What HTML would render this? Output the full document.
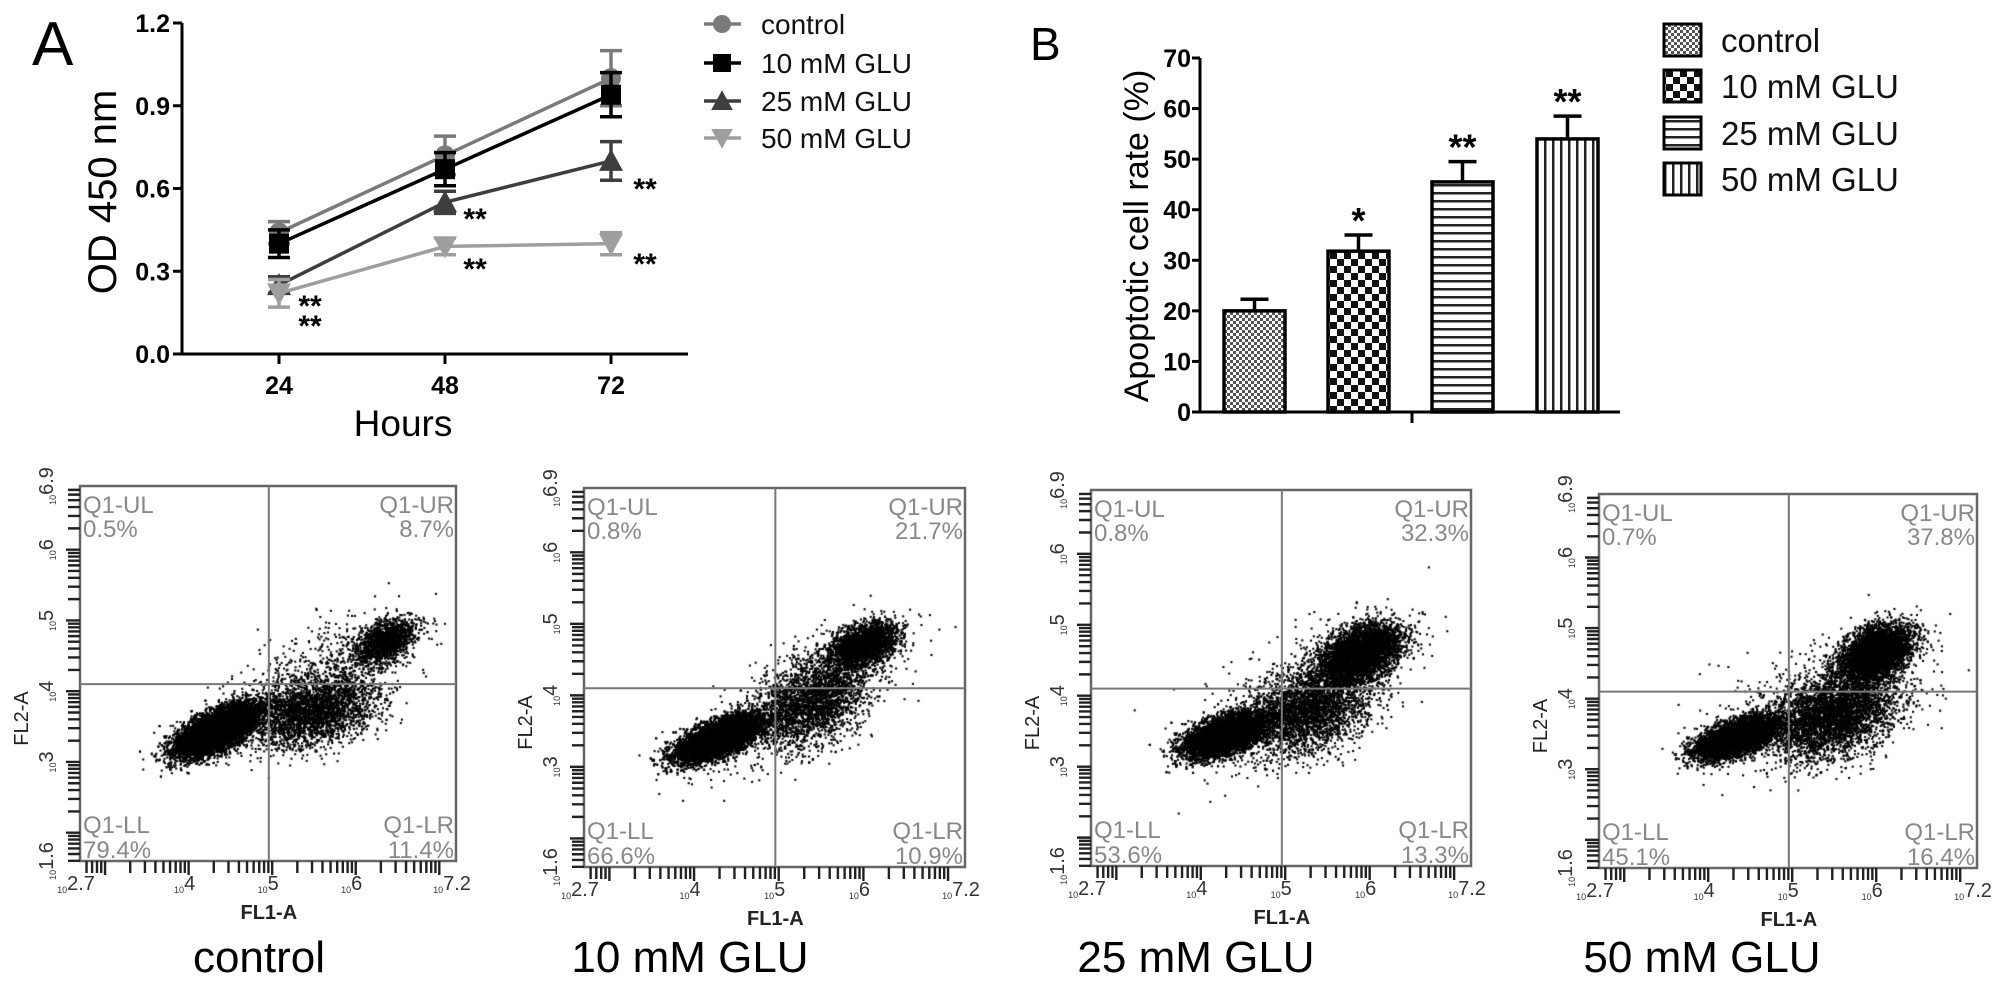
<!DOCTYPE html>
<html><head><meta charset="utf-8"><style>
html,body{margin:0;padding:0;background:#fff;}
#wrap{position:relative;width:2008px;height:997px;overflow:hidden;}
canvas,svg{position:absolute;left:0;top:0;}
text{font-family:"Liberation Sans",sans-serif;}
</style></head><body>
<div id="wrap">
<canvas id="dots" width="2008" height="997"></canvas>
<svg id="fig" width="2008" height="997" xmlns="http://www.w3.org/2000/svg">
<defs>
<pattern id="pCtrl" width="6" height="6" patternUnits="userSpaceOnUse"><rect width="6" height="6" fill="#fff"/><rect width="3" height="3" fill="#555"/><rect x="3" y="3" width="3" height="3" fill="#555"/></pattern>
<pattern id="p10" width="14" height="14" patternUnits="userSpaceOnUse"><rect width="14" height="14" fill="#fff"/><rect width="7" height="7" fill="#111"/><rect x="7" y="7" width="7" height="7" fill="#111"/></pattern>
<pattern id="p25" width="8" height="8" patternUnits="userSpaceOnUse"><rect width="8" height="8" fill="#fff"/><rect y="0" width="8" height="2.5" fill="#222"/></pattern>
<pattern id="p50" width="8" height="8" patternUnits="userSpaceOnUse"><rect width="8" height="8" fill="#fff"/><rect x="0" width="2.5" height="8" fill="#222"/></pattern>
</defs>
<g id="panelA"></g>
<g id="panelB"></g>
<g id="flows"></g>
</svg>
</div>
<script>
// ---------- Panel A data ----------
const hours = [24, 48, 72];
const yTicksA = [0.0, 0.3, 0.6, 0.9, 1.2];
const seriesNames = ["control", "10 mM GLU", "25 mM GLU", "50 mM GLU"];
const ctrlMean = [0.44, 0.72, 1.00];
const ctrlErr = [0.04, 0.07, 0.10];
const glu10Mean = [0.40, 0.67, 0.94];
const glu10Err = [0.05, 0.06, 0.08];
const glu25Mean = [0.25, 0.55, 0.70];
const glu25Err = [0.03, 0.04, 0.07];
const glu50Mean = [0.22, 0.39, 0.40];
const glu50Err = [0.05, 0.03, 0.04];
// ---------- Panel B data ----------
const barCats = ["control", "10 mM GLU", "25 mM GLU", "50 mM GLU"];
const barVals = [20.0, 31.8, 45.5, 54.0];
const barErrs = [2.3, 3.2, 4.0, 4.5];
const barStars = ["", "*", "**", "**"];
const yTicksB = [0, 10, 20, 30, 40, 50, 60, 70];
// ---------- Flow data ----------
const flowTitles = ["control", "10 mM GLU", "25 mM GLU", "50 mM GLU"];
const flowUL = ["0.5%", "0.8%", "0.8%", "0.7%"];
const flowUR = ["8.7%", "21.7%", "32.3%", "37.8%"];
const flowLL = ["79.4%", "66.6%", "53.6%", "45.1%"];
const flowLR = ["11.4%", "10.9%", "13.3%", "16.4%"];
const flowXTicks = ["2.7", "4", "5", "6", "7.2"];
const flowXTickVals = [2.7, 4, 5, 6, 7.2];
const flowYTicks = ["1.6", "3", "4", "5", "6", "6.9"];
const flowYTickVals = [1.6, 3, 4, 5, 6, 6.9];
const gateX = 4.96, gateY = 4.1;
// clusters: [cx, cy, sdMajor, sdMinor, angleDeg, n] (log decades)
const clusters1 = [[4.35,3.45,0.28,0.12,33,9000],[5.5,3.7,0.4,0.22,20,2600],[6.35,4.7,0.2,0.13,40,1500],[5.6,4.2,0.6,0.3,35,700]];
const clusters2 = [[4.3,3.4,0.28,0.11,28,8500],[5.4,3.9,0.38,0.26,40,2400],[6.0,4.7,0.22,0.13,30,2600],[5.2,3.9,0.7,0.3,40,500]];
const clusters3 = [[4.3,3.45,0.26,0.12,25,7000],[5.3,3.8,0.4,0.26,35,2800],[5.9,4.6,0.26,0.17,35,4200],[5.2,4.0,0.7,0.35,40,600]];
const clusters4 = [[4.35,3.45,0.26,0.11,25,6000],[5.5,3.75,0.4,0.26,30,3600],[6.0,4.65,0.24,0.16,40,4200],[5.3,4.0,0.7,0.35,30,600]];

const NS = "http://www.w3.org/2000/svg";
function mk(parent, tag, attrs, txt){
  const e = document.createElementNS(NS, tag);
  for (const k in attrs) e.setAttribute(k, attrs[k]);
  if (txt !== undefined) e.textContent = txt;
  parent.appendChild(e); return e;
}

// ===== Panel A =====
(function(){
  const g = document.getElementById('panelA');
  const x0 = 182, y0 = 354, yTop = 23;
  const xs = h => 279 + (h - 24) * (611 - 279) / 48;
  const ys = v => y0 - v / 1.2 * (y0 - yTop);
  let t = mk(g,'text',{x:32,y:65,'font-size':62},'A');
   
  let ax = mk(g,'line',{x1:x0,y1:yTop,x2:x0,y2:y0,stroke:'#000','stroke-width':3});
   
  let axx = mk(g,'line',{x1:x0,y1:y0,x2:688,y2:y0,stroke:'#000','stroke-width':3});
   
  yTicksA.forEach(v=>{
    const y = ys(v);
    mk(g,'line',{x1:x0-9,y1:y,x2:x0,y2:y,stroke:'#000','stroke-width':3});
    const l = mk(g,'text',{x:x0-12,y:y+9,'font-size':25,'font-weight':'bold','text-anchor':'end'},v.toFixed(1));
     
  });
  hours.forEach(h=>{
    const x = xs(h);
    mk(g,'line',{x1:x,y1:y0,x2:x,y2:y0+10,stroke:'#000','stroke-width':3});
    const l = mk(g,'text',{x:x,y:y0+40,'font-size':25,'font-weight':'bold','text-anchor':'middle'},String(h));
     
  });
  let yl = mk(g,'text',{x:0,y:0,'font-size':40,'text-anchor':'middle',transform:'translate(116,192) rotate(-90)'},'OD 450 nm');
   
  let xl = mk(g,'text',{x:403,y:436,'font-size':37,'text-anchor':'middle'},'Hours');
   

  const means = [ctrlMean, glu10Mean, glu25Mean, glu50Mean];
  const errs = [ctrlErr, glu10Err, glu25Err, glu50Err];
  const cols = ['#7a7a7a','#000','#3e3e3e','#9e9e9e'];
  const shapes = ['circle','square','tri','itri'];
  function marker(pg, s, x, y, c, r){
    if (s==='circle') return mk(pg,'circle',{cx:x,cy:y,r:r,fill:c});
    if (s==='square') return mk(pg,'rect',{x:x-r,y:y-r,width:2*r,height:2*r,fill:c});
    if (s==='tri') return mk(pg,'polygon',{points:`${x},${y-r*1.2} ${x-r*1.2},${y+r} ${x+r*1.2},${y+r}`,fill:c});
    return mk(pg,'polygon',{points:`${x},${y+r*1.2} ${x-r*1.2},${y-r} ${x+r*1.2},${y-r}`,fill:c});
  }
  means.forEach((m,si)=>{
    const sg = mk(g,'g',{});
     
    const pts = hours.map((h,i)=>xs(h)+','+ys(m[i])).join(' ');
    mk(sg,'polyline',{points:pts,fill:'none',stroke:cols[si],'stroke-width':3.5});
    hours.forEach((h,i)=>{
      const x=xs(h), yt=ys(m[i]+errs[si][i]), yb=ys(m[i]-errs[si][i]);
      const eb = mk(sg,'path',{d:`M${x},${yt}V${yb}M${x-11},${yt}H${x+11}M${x-11},${yb}H${x+11}`,stroke:cols[si],'stroke-width':3.5,fill:'none'});
       
      const mkr = marker(sg, shapes[si], x, ys(m[i]), cols[si], 10);
       
    });
  });
  const stars = [[310,302],[310,322],[475,215],[475,265],[645,185],[645,260]];
  stars.forEach(p=>{
    const s = mk(g,'text',{x:p[0],y:p[1]+14,'font-size':30,'font-weight':'bold','text-anchor':'middle'},'**');
     
  });
  const lyc = [24,63,101,138];
  seriesNames.forEach((n,i)=>{
    const lg = mk(g,'g',{});
     
    mk(lg,'line',{x1:704,y1:lyc[i],x2:741,y2:lyc[i],stroke:cols[i],'stroke-width':3.5});
    marker(lg, shapes[i], 722, lyc[i], cols[i], 9);
    mk(lg,'text',{x:761,y:lyc[i]+10,'font-size':28,fill:'#111'},n);
  });
})();

// ===== Panel B =====
(function(){
  const g = document.getElementById('panelB');
  const x0 = 1200, y0 = 412, yTop = 58;
  const ys = v => y0 - v / 70 * (y0 - yTop);
  const barX = [1224, 1328, 1432, 1537], bw = 61;
  const pats = ['url(#pCtrl)','url(#p10)','url(#p25)','url(#p50)'];
  let t = mk(g,'text',{x:1030,y:60,'font-size':46},'B');
   
  barVals.forEach((v,i)=>{
    const x = barX[i], y = ys(v), ye = ys(v+barErrs[i]), cx = x + bw/2;
    const eb = mk(g,'path',{d:`M${cx},${y}V${ye}M${cx-14},${ye}H${cx+14}`,stroke:'#000','stroke-width':3.5,fill:'none'});
     
    const r = mk(g,'rect',{x:x,y:y,width:bw,height:y0-y,fill:pats[i],stroke:'#000','stroke-width':3.5});
     
    if (barStars[i]) {
      const s = mk(g,'text',{x:cx,y:ye-2,'font-size':36,'font-weight':'bold','text-anchor':'middle'},barStars[i]);
       
    }
  });
  let ax = mk(g,'line',{x1:x0,y1:yTop,x2:x0,y2:y0,stroke:'#000','stroke-width':3});
   
  let axx = mk(g,'line',{x1:x0,y1:y0,x2:1620,y2:y0,stroke:'#000','stroke-width':3});
   
  mk(g,'line',{x1:1412,y1:y0,x2:1412,y2:y0+11,stroke:'#000','stroke-width':3});
  yTicksB.forEach(v=>{
    const y = ys(v);
    mk(g,'line',{x1:x0-8,y1:y,x2:x0,y2:y,stroke:'#000','stroke-width':3});
    const l = mk(g,'text',{x:x0-9,y:y+9,'font-size':25,'font-weight':'bold','text-anchor':'end'},String(v));
     
  });
  let yl = mk(g,'text',{x:0,y:0,'font-size':34,'text-anchor':'middle',transform:'translate(1148,236) rotate(-90)'},'Apoptotic cell rate (%)');
   
  const ly = [24,70,117,163];
  barCats.forEach((n,i)=>{
    const lg = mk(g,'g',{});
     
    mk(lg,'rect',{x:1664,y:ly[i],width:37,height:32,fill:pats[i],stroke:'#000','stroke-width':3});
    mk(lg,'text',{x:1721,y:ly[i]+28,'font-size':33,fill:'#111'},n);
  });
})();

// ===== Flow panels =====
(function(){
  const g = document.getElementById('flows');
  const ctx = document.getElementById('dots').getContext('2d');
  const boxes = [[80,486,456,861],[584,488,965,867],[1091,490,1471,866],[1599,494,1977,868]];
  const titleX = [259, 690, 1196, 1702];
  const allClusters = [clusters1, clusters2, clusters3, clusters4];
  let seed = 12345;
  function rnd(){ seed = (seed * 1103515245 + 12345) % 2147483648; return seed / 2147483648; }
  function gauss(){ let u = rnd() || 1e-9, v = rnd(); return Math.sqrt(-2*Math.log(u))*Math.cos(2*Math.PI*v); }
  boxes.forEach((b,pi)=>{
    const [L,T,R,B] = b;
    const sx = v => L + (v - 2.7) / 4.5 * (R - L);
    const sy = v => B - (v - 1.6) / 5.3 * (B - T);
    const pg = mk(g,'g',{});
     
    ctx.fillStyle = '#000';
    allClusters[pi].forEach(c=>{
      const [cx,cy,a,bm,ang,n] = c, th = ang*Math.PI/180;
      for (let k=0;k<n;k++){
        const u = gauss()*a, w = gauss()*bm;
        const dx = cx + u*Math.cos(th) - w*Math.sin(th);
        const dy = cy + u*Math.sin(th) + w*Math.cos(th);
        const px = sx(dx), py = sy(dy);
        if (px>L+1 && px<R-1 && py>T+1 && py<B-1) ctx.fillRect(px-1.05, py-1.05, 2.1, 2.1);
      }
    });
    mk(pg,'rect',{x:L,y:T,width:R-L,height:B-T,fill:'none',stroke:'#666','stroke-width':2.5});
    const gx = mk(pg,'line',{x1:sx(gateX),y1:T,x2:sx(gateX),y2:B,stroke:'#777','stroke-width':2});
     
    const gy = mk(pg,'line',{x1:L,y1:sy(gateY),x2:R,y2:sy(gateY),stroke:'#777','stroke-width':2});
     
    let d = '';
    for (let dec=2; dec<=7; dec++) for (let k=1;k<=9;k++){
      const v = dec + Math.log10(k);
      if (v>=2.7 && v<=7.2){ const x = sx(v); d += `M${x},${B}V${B+(k===1?14:12)}`; }
      if (v>=1.6 && v<=6.9 && dec<=6){ const y = sy(v); d += `M${L},${y}H${L-(k===1?14:12)}`; }
    }
    for (let k=4;k<=9;k++){ const v=1+Math.log10(k); if (v>=1.6){ const y=sy(v); d+=`M${L},${y}H${L-12}`; } }
    const tk = mk(pg,'path',{d:d,stroke:'#222','stroke-width':2.4,fill:'none'});
     
    flowXTickVals.forEach((v,i)=>{
      const x = sx(v);
      const tl = mk(pg,'text',{x:x-4,y:B+32,'font-size':20,'text-anchor':'middle',fill:'#333'});
       
      mk(tl,'tspan',{'font-size':9},'10'); mk(tl,'tspan',{dy:-3},flowXTicks[i]);
    });
    flowYTickVals.forEach((v,i)=>{
      const y = sy(v);
      const tl = mk(pg,'text',{x:0,y:0,'font-size':20,'text-anchor':'middle',fill:'#333',transform:`translate(${L-24},${y}) rotate(-90)`});
       
      mk(tl,'tspan',{'font-size':9},'10'); mk(tl,'tspan',{dy:-3},flowYTicks[i]);
    });
    const xt = mk(pg,'text',{x:sx(gateX),y:B+58,'font-size':20,'font-weight':'bold','text-anchor':'middle',fill:'#222'},'FL1-A');
     
    const yt = mk(pg,'text',{x:0,y:0,'font-size':20,'text-anchor':'middle',fill:'#222',transform:`translate(${L-52},${(T+B)/2+45}) rotate(-90)`},'FL2-A');
     
    const qc = '#888', fs = 24;
    const q = [
      ['Q1-UL', L+3, T+27, 'start'], [flowUL[pi], L+3, T+51, 'start'],
      ['Q1-UR', R-2, T+27, 'end'], [flowUR[pi], R-2, T+51, 'end'],
      ['Q1-LL', L+3, B-28, 'start'], [flowLL[pi], L+3, B-3, 'start'],
      ['Q1-LR', R-2, B-28, 'end'], [flowLR[pi], R-2, B-3, 'end']];
    q.forEach(e=>{
      const ql = mk(pg,'text',{x:e[1],y:e[2],'font-size':fs,fill:qc,'text-anchor':e[3]},e[0]);
       
    });
    const tt = mk(pg,'text',{x:titleX[pi],y:972,'font-size':44,'text-anchor':'middle',fill:'#000'},flowTitles[pi]);
     
  });
})();
</script>
</body></html>
